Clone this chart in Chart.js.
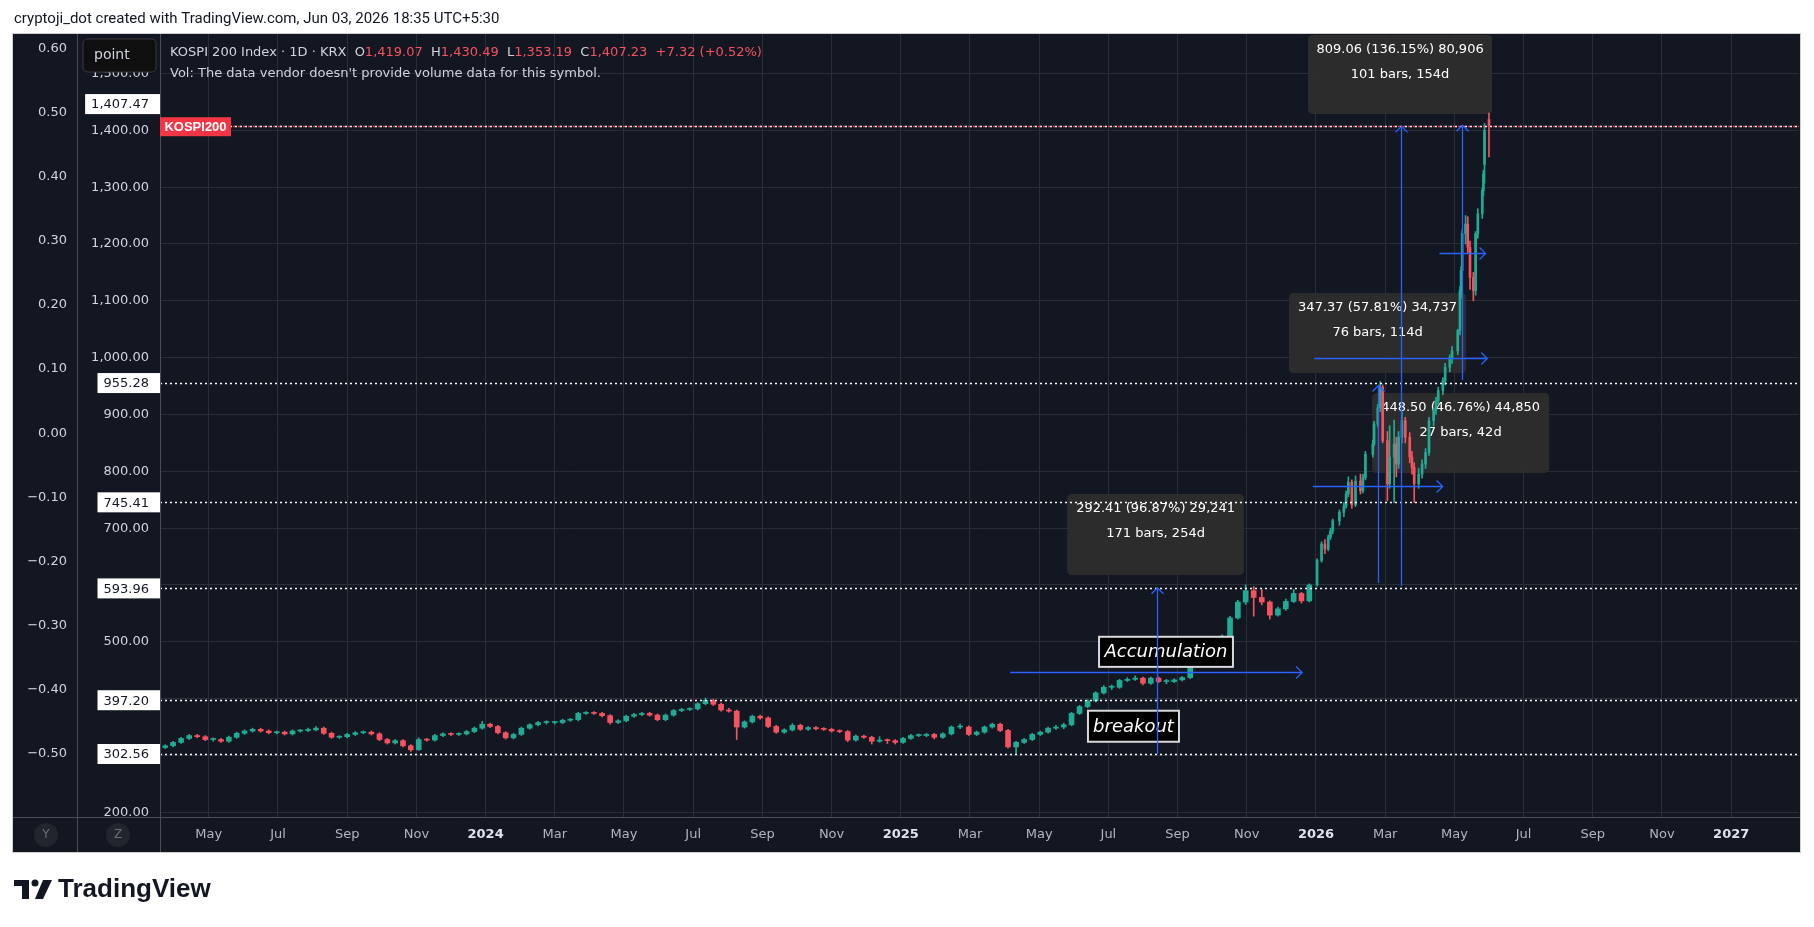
<!DOCTYPE html>
<html>
<head>
<meta charset="utf-8">
<title>KOSPI 200 Index</title>
<script src="https://cdn.jsdelivr.net/npm/chart.js@4.4.1/dist/chart.umd.min.js"></script>
<style>
  html, body { margin: 0; padding: 0; background: #ffffff; }
  #wrap { width: 1814px; height: 927px; }
</style>
</head>
<body>
<div id="wrap"><canvas id="kospi" width="1814" height="927"></canvas></div>
<script>
// weekly candles until end of 2025, then roughly every second session in 2026
var dates = [
  '2023-03-24','2023-03-31','2023-04-07','2023-04-14','2023-04-21','2023-04-28','2023-05-05','2023-05-12','2023-05-19','2023-05-26',
  '2023-06-02','2023-06-09','2023-06-16','2023-06-23','2023-06-30','2023-07-07','2023-07-14','2023-07-21','2023-07-28','2023-08-04',
  '2023-08-11','2023-08-18','2023-08-25','2023-09-01','2023-09-08','2023-09-15','2023-09-22','2023-09-29','2023-10-06','2023-10-13',
  '2023-10-20','2023-10-27','2023-11-03','2023-11-10','2023-11-17','2023-11-24','2023-12-01','2023-12-08','2023-12-15','2023-12-22',
  '2023-12-29','2024-01-05','2024-01-12','2024-01-19','2024-01-26','2024-02-02','2024-02-09','2024-02-16','2024-02-23','2024-03-01',
  '2024-03-08','2024-03-15','2024-03-22','2024-03-29','2024-04-05','2024-04-12','2024-04-19','2024-04-26','2024-05-03','2024-05-10',
  '2024-05-17','2024-05-24','2024-05-31','2024-06-07','2024-06-14','2024-06-21','2024-06-28','2024-07-05','2024-07-12','2024-07-19',
  '2024-07-26','2024-08-02','2024-08-09','2024-08-16','2024-08-23','2024-08-30','2024-09-06','2024-09-13','2024-09-20','2024-09-27',
  '2024-10-04','2024-10-11','2024-10-18','2024-10-25','2024-11-01','2024-11-08','2024-11-15','2024-11-22','2024-11-29','2024-12-06',
  '2024-12-13','2024-12-20','2024-12-27','2025-01-03','2025-01-10','2025-01-17','2025-01-24','2025-01-31','2025-02-07','2025-02-14',
  '2025-02-21','2025-02-28','2025-03-07','2025-03-14','2025-03-21','2025-03-28','2025-04-04','2025-04-11','2025-04-18','2025-04-25',
  '2025-05-02','2025-05-09','2025-05-16','2025-05-23','2025-05-30','2025-06-06','2025-06-13','2025-06-20','2025-06-27','2025-07-04',
  '2025-07-11','2025-07-18','2025-07-25','2025-08-01','2025-08-08','2025-08-15','2025-08-22','2025-08-29','2025-09-05','2025-09-12',
  '2025-09-19','2025-09-26','2025-10-03','2025-10-10','2025-10-17','2025-10-24','2025-10-31','2025-11-07','2025-11-14','2025-11-21',
  '2025-11-28','2025-12-05','2025-12-12','2025-12-19','2025-12-26',
  '2026-01-02','2026-01-06','2026-01-09','2026-01-12','2026-01-14','2026-01-16','2026-01-22','2026-01-26','2026-01-28','2026-01-30',
  '2026-02-02','2026-02-05','2026-02-09','2026-02-11','2026-02-13','2026-02-19','2026-02-20','2026-02-23','2026-02-25','2026-02-27',
  '2026-03-03','2026-03-05','2026-03-09','2026-03-11','2026-03-13','2026-03-16','2026-03-19','2026-03-23','2026-03-25','2026-03-27',
  '2026-03-31','2026-04-03','2026-04-06','2026-04-09','2026-04-13','2026-04-15','2026-04-17','2026-04-21','2026-04-23','2026-04-27',
  '2026-04-29','2026-05-04','2026-05-06','2026-05-07','2026-05-08','2026-05-11','2026-05-13','2026-05-15','2026-05-18','2026-05-20',
  '2026-05-22','2026-05-26','2026-05-27','2026-05-28','2026-06-01'
];
var opens = [
  314,317,323,330,335,333,328,328,325,332, 339,343,346,343,340,341,338,343,344,345,
  348,339,332,333,337,340,341,338,328,322, 326,317,310,328,327,335,338,337,338,342,
  348,355,351,340,331,337,348,354,358,358, 358,362,363,374,375,374,370,358,361,369,
  372,374,371,363,371,379,381,382,391,397, 390,380,378,350,359,369,366,351,341,345,
  353,346,349,347,346,343,342,327,334,332, 325,327,326,323,330,335,335,337,332,338,
  350,350,337,341,350,355,344,315,323,328, 337,341,348,350,354,374,386,396,410,420,
  420,432,434,436,427,436,430,430,433,437, 458,473,476,489,510,542,570,590,578,570,
  547,558,571,585,572,
  600,643,672,663,684,695,713,728,739,760, 781,741,783,766,789,830,848,883,912,948,
  854,778,825,848,813,860,889,860,825,807, 778,795,813,833,889,907,924,942,959,983,
  1000,1012,1047,1118,1153,1218,1235,1194,1141,1118, 1218,1253,1294,1340,1419.07
];
var highs = [
  319,325,332,337,337,335,331,330,334,341, 345,348,348,345,343,343,345,346,348,351,
  350,341,335,339,342,343,343,340,330,328, 328,319,331,330,337,340,340,340,344,350,
  360,357,353,342,339,350,356,360,361,360, 364,365,376,377,377,376,372,363,371,374,
  376,376,373,373,381,383,384,393,401,399, 392,383,380,361,371,371,368,353,347,356,
  355,351,351,349,348,345,344,336,336,334, 333,329,328,332,337,338,339,339,340,352,
  355,352,343,352,357,357,346,325,330,339, 343,350,353,357,376,388,398,412,423,424,
  434,437,440,438,438,438,434,435,439,460, 475,479,491,512,545,573,600,597,592,572,
  561,575,592,587,602,
  646,676,680,688,700,716,732,745,765,790, 785,792,795,795,835,855,888,918,958,952,
  870,880,890,860,870,905,895,868,835,815, 805,820,840,895,912,930,948,965,990,1005,
  1020,1050,1125,1160,1225,1250,1248,1205,1150,1222, 1262,1298,1330,1412,1430.49
];
var lows = [
  312,315,321,328,331,326,325,323,323,330, 337,341,341,338,338,336,336,341,342,343,
  337,330,330,331,335,338,336,326,320,320, 315,307,309,325,325,333,335,335,336,340,
  346,349,338,329,329,335,346,352,355,355, 356,360,361,372,372,368,355,356,359,367,
  370,369,361,361,369,377,379,380,389,388, 378,376,328,348,357,364,349,339,339,343,
  344,344,345,344,341,340,324,325,330,320, 323,321,320,321,328,333,333,329,330,336,
  347,335,335,339,348,342,313,302.6,321,326, 335,339,346,347,352,372,384,394,408,416,
  418,430,432,424,425,428,426,428,431,435, 456,468,474,487,508,540,566,545,565,540,
  545,555,569,568,570,
  598,640,655,660,680,690,705,720,735,755, 735,738,760,762,785,825,845,878,905,850,
  748,770,745,790,805,850,850,815,795,745, 770,788,805,828,880,900,918,935,952,975,
  990,1005,1040,1105,1145,1200,1185,1120,1100,1110, 1210,1245,1285,1307,1353.19
];
var closes = [
  317,323,330,335,333,328,328,325,332,339, 343,346,343,340,341,338,343,344,345,348,
  339,332,333,337,340,341,338,328,322,326, 317,310,328,327,335,338,337,338,342,348,
  355,351,340,331,337,348,354,358,358,358, 362,363,374,375,374,370,358,361,369,372,
  374,371,363,371,379,381,382,391,397,390, 380,378,350,359,369,366,351,341,345,353,
  346,349,347,346,343,342,327,334,332,325, 327,326,323,330,335,335,337,332,338,350,
  350,337,341,350,355,344,315,323,328,337, 341,348,350,354,374,386,396,410,420,420,
  432,434,436,427,436,430,430,433,437,458, 473,476,489,510,542,570,590,578,570,547,
  558,571,585,572,600,
  643,672,663,684,695,713,728,739,760,781, 741,783,766,789,830,848,883,912,948,854,
  778,825,848,813,860,889,860,825,807,778, 795,813,833,889,907,924,942,959,983,1000,
  1012,1047,1118,1153,1218,1235,1194,1141,1118,1218, 1253,1294,1323,1400,1407.23
];

// axis ticks
var monthNames = ['Jan','Feb','Mar','Apr','May','Jun','Jul','Aug','Sep','Oct','Nov','Dec'];
var xTicks = [4,6,8,10,12,14,16,18,20,22,24,26,28,30,32,34,36,38,40,42,44,46,48]; // months since Jan 2023
var priceTicks = [200,300,400,500,600,700,800,900,1000,1100,1200,1300,1400,1500];
var hiddenPriceTicks = [300,400,600];
var pctTicks = [-0.5,-0.4,-0.3,-0.2,-0.1,0,0.1,0.2,0.3,0.4,0.5,0.6];

// drawings on the chart (month position, price)
var levelPrices = [1407.47, 955.28, 745.41, 593.96, 397.20, 302.56];
var lastPrice = 1407.23;
var rangeTools = [
  { vm: 31.41, vp0: 302.56, vp1: 594.97, hp: 447.0, hm0: 27.16, hm1: 35.60 },
  { vm: 38.47, vp0: 598.0, vp1: 1407.0, hp: 1000.0, hm0: 35.95, hm1: 40.95 },
  { vm: 37.78, vp0: 603.5, vp1: 951.0, hp: 774.7, hm0: 35.91, hm1: 39.66 },
  { vm: 40.23, vp0: 960.7, vp1: 1409.0, hp: 1184.2, hm0: 39.57, hm1: 40.90 }
];
var rangeBoxes = [
  { m0: 28.81, m1: 33.92, p0: 760.1, p1: 617.6, lines: ['292.41 (96.87%) 29,241', '171 bars, 254d'] },
  { m0: 35.77, m1: 41.09, p0: 1567.8, p1: 1428.8, lines: ['809.06 (136.15%) 80,906', '101 bars, 154d'] },
  { m0: 35.22, m1: 40.34, p0: 1113.8, p1: 973.0, lines: ['347.37 (57.81%) 34,737', '76 bars, 114d'] },
  { m0: 37.62, m1: 42.74, p0: 937.9, p1: 797.1, lines: ['448.50 (46.76%) 44,850', '27 bars, 42d'] }
];
var noteLabels = [
  { text: 'Accumulation', m0: 29.73, m1: 33.60, p0: 508.8, p1: 455.9 },
  { text: 'breakout', m0: 29.41, m1: 32.04, p0: 378.7, p1: 324.1 }
];

var UP = '#22ab94', DOWN = '#f7525f';
var GRID = '#2a2e39';
var TXT = '#d1d4dc';
var FONT = '"DejaVu Sans", sans-serif';

function monthPos(s) {
  var p = s.split('-').map(Number);
  var dim = new Date(p[0], p[1], 0).getDate();
  return (p[0] - 2023) * 12 + (p[1] - 1) + (p[2] - 1) / dim;
}

function candles(from2026, a, b) {
  var out = [];
  for (var i = 0; i < dates.length; i++) {
    if ((dates[i] >= '2026') === from2026) out.push({ x: monthPos(dates[i]), y: [a[i], b[i]], i: i });
  }
  return out;
}
function candleColor(ctx) {
  var i = ctx.raw ? ctx.raw.i : 0;
  return closes[i] >= opens[i] ? UP : DOWN;
}
function candleSet(from2026, body) {
  return {
    data: body ? candles(from2026, opens, closes) : candles(from2026, lows, highs),
    backgroundColor: candleColor,
    borderWidth: 0,
    stack: 'c',
    barThickness: body ? (from2026 ? 2 : 5) : 1,
    minBarLength: 1
  };
}

function fmtPrice(v) {
  return v.toLocaleString('en-US', { minimumFractionDigits: 2, maximumFractionDigits: 2 });
}

function arrowUp(g, x, y) {
  g.beginPath(); g.moveTo(x - 6, y + 6); g.lineTo(x, y); g.lineTo(x + 6, y + 6); g.stroke();
}
function arrowRight(g, x, y) {
  g.beginPath(); g.moveTo(x - 6, y - 6); g.lineTo(x, y); g.lineTo(x - 6, y + 6); g.stroke();
}
function roundRect(g, x, y, w, h, r) {
  g.beginPath();
  g.moveTo(x + r, y); g.lineTo(x + w - r, y); g.quadraticCurveTo(x + w, y, x + w, y + r);
  g.lineTo(x + w, y + h - r); g.quadraticCurveTo(x + w, y + h, x + w - r, y + h);
  g.lineTo(x + r, y + h); g.quadraticCurveTo(x, y + h, x, y + h - r);
  g.lineTo(x, y + r); g.quadraticCurveTo(x, y, x + r, y);
  g.closePath();
}

var frame = {
  id: 'frame',
  beforeDraw: function (c) {
    var g = c.ctx;
    g.save();
    g.fillStyle = '#ffffff';
    g.fillRect(0, 0, c.width, c.height);
    g.fillStyle = '#131722';
    g.fillRect(13, 34, 1787, 818);
    g.restore();
  },
  beforeDatasetsDraw: function (c) {
    var g = c.ctx, xs = c.scales.x, ys = c.scales.y;
    g.save();
    rangeBoxes.forEach(function (b) {
      var x0 = xs.getPixelForValue(b.m0), x1 = xs.getPixelForValue(b.m1);
      var y0 = ys.getPixelForValue(b.p0), y1 = ys.getPixelForValue(b.p1);
      g.fillStyle = 'rgba(46,46,46,0.96)';
      roundRect(g, x0, y0, x1 - x0, y1 - y0, 5);
      g.fill();
      g.fillStyle = '#ffffff';
      g.font = '13px ' + FONT;
      g.textAlign = 'center';
      g.textBaseline = 'middle';
      g.fillText(b.lines[0], (x0 + x1) / 2, y0 + 15);
      g.fillText(b.lines[1], (x0 + x1) / 2, y0 + 40);
    });
    g.restore();
  },
  afterDatasetsDraw: function (c) {
    var g = c.ctx, xs = c.scales.x, ys = c.scales.y, a = c.chartArea;
    g.save();
    g.beginPath(); g.rect(a.left, a.top, a.right - a.left, a.bottom - a.top); g.clip();
    // horizontal levels
    g.lineWidth = 1.5;
    g.setLineDash([2, 3]);
    g.strokeStyle = '#ffffff';
    levelPrices.forEach(function (p) {
      var y = Math.round(ys.getPixelForValue(p)) + 0.5;
      g.beginPath(); g.moveTo(a.left, y); g.lineTo(a.right, y); g.stroke();
    });
    g.strokeStyle = '#f23645';
    g.lineDashOffset = 2;
    var yl = Math.round(ys.getPixelForValue(lastPrice)) + 0.5;
    g.beginPath(); g.moveTo(a.left, yl); g.lineTo(a.right, yl); g.stroke();
    g.setLineDash([]);
    // text notes
    noteLabels.forEach(function (n) {
      var x0 = xs.getPixelForValue(n.m0), x1 = xs.getPixelForValue(n.m1);
      var y0 = ys.getPixelForValue(n.p0), y1 = ys.getPixelForValue(n.p1);
      g.fillStyle = '#000000';
      g.fillRect(x0, y0, x1 - x0, y1 - y0);
      g.strokeStyle = '#d9d9d9';
      g.lineWidth = 2;
      g.strokeRect(x0, y0, x1 - x0, y1 - y0);
      g.fillStyle = '#ffffff';
      g.font = 'italic 18px ' + FONT;
      g.textAlign = 'center';
      g.textBaseline = 'middle';
      g.fillText(n.text, (x0 + x1) / 2, (y0 + y1) / 2 + 1);
    });
    // date and price ranges
    g.strokeStyle = '#2962ff';
    g.lineWidth = 1.3;
    rangeTools.forEach(function (t) {
      var x = Math.round(xs.getPixelForValue(t.vm)) + 0.5;
      var yb = ys.getPixelForValue(t.vp0), yt = ys.getPixelForValue(t.vp1);
      g.beginPath(); g.moveTo(x, yb); g.lineTo(x, yt); g.stroke();
      arrowUp(g, x, yt);
      var y = Math.round(ys.getPixelForValue(t.hp)) + 0.5;
      var xl = xs.getPixelForValue(t.hm0), xr = xs.getPixelForValue(t.hm1);
      g.beginPath(); g.moveTo(xl, y); g.lineTo(xr, y); g.stroke();
      arrowRight(g, xr, y);
    });
    g.restore();
  },
  afterDraw: function (c) {
    var g = c.ctx, ys = c.scales.y, a = c.chartArea;
    g.save();
    // pane separators and outline
    g.strokeStyle = '#4a4e59';
    g.lineWidth = 1;
    g.beginPath();
    g.moveTo(77.5, 34); g.lineTo(77.5, 852);
    g.moveTo(a.left + 0.5, 34); g.lineTo(a.left + 0.5, 852);
    g.moveTo(13, a.bottom + 0.5); g.lineTo(1800, a.bottom + 0.5);
    g.stroke();
    g.strokeStyle = '#cfcfcf';
    g.strokeRect(12.5, 33.5, 1788, 819);

    // price labels of the levels
    g.font = '13px ' + FONT;
    g.textBaseline = 'middle';
    g.textAlign = 'right';
    levelPrices.forEach(function (p, k) {
      var y = ys.getPixelForValue(p);
      if (k === 0) y -= 22;
      var t = fmtPrice(p), w = g.measureText(t).width;
      g.fillStyle = '#ffffff';
      g.fillRect(a.left - 11 - w - 6, y - 10, w + 17, 20);
      g.fillStyle = '#131722';
      g.fillText(t, a.left - 11, y + 1);
    });

    // symbol tag on the last price line
    var yl = ys.getPixelForValue(lastPrice);
    g.fillStyle = '#f23645';
    g.fillRect(a.left, yl - 9, 71, 19);
    g.fillStyle = '#ffffff';
    g.font = 'bold 13px "Liberation Sans", sans-serif';
    g.textAlign = 'center';
    g.fillText('KOSPI200', a.left + 35.5, yl + 1);

    // interval button
    g.fillStyle = '#0f0f10';
    roundRect(g, 83, 39, 73, 33, 5);
    g.fill();
    g.strokeStyle = '#3a3a3a';
    g.stroke();
    g.fillStyle = TXT;
    g.font = '14px ' + FONT;
    g.textAlign = 'left';
    g.fillText('point', 94, 55);

    // legend
    var x = 170, y = 53;
    g.font = '13px ' + FONT;
    var parts = [
      ['KOSPI 200 Index · 1D · KRX  ', TXT], ['O', TXT], ['1,419.07  ', DOWN], ['H', TXT], ['1,430.49  ', DOWN],
      ['L', TXT], ['1,353.19  ', DOWN], ['C', TXT], ['1,407.23  +7.32 (+0.52%)', DOWN]
    ];
    parts.forEach(function (p) {
      g.fillStyle = p[1];
      g.fillText(p[0], x, y);
      x += g.measureText(p[0]).width;
    });
    g.fillStyle = TXT;
    g.fillText("Vol: The data vendor doesn't provide volume data for this symbol.", 170, 74);

    // scale buttons
    [[46, 'Y'], [118, 'Z']].forEach(function (b) {
      g.fillStyle = '#22252e';
      g.beginPath(); g.arc(b[0], 835, 12, 0, Math.PI * 2); g.fill();
      g.fillStyle = '#6a6d78';
      g.font = '12px ' + FONT;
      g.textAlign = 'center';
      g.fillText(b[1], b[0], 835);
    });

    // header and footer
    g.fillStyle = '#131722';
    g.font = '15px Roboto, sans-serif';
    g.textAlign = 'left';
    g.fillText('cryptoji_dot created with TradingView.com, Jun 03, 2026 18:35 UTC+5:30', 14, 19);

    g.fillStyle = '#131722';
    g.fillRect(14, 880, 15, 6);
    g.fillRect(22, 880, 7, 19);
    g.beginPath(); g.arc(35, 883, 3.5, 0, Math.PI * 2); g.fill();
    g.beginPath(); g.moveTo(43, 880); g.lineTo(52, 880); g.lineTo(43, 899); g.lineTo(35, 899); g.closePath(); g.fill();
    g.font = 'bold 26px "Liberation Sans", sans-serif';
    g.fillText('TradingView', 58, 890);
    g.restore();
  }
};

var config = {
  type: 'bar',
  data: {
    datasets: [candleSet(false, true), candleSet(true, true), candleSet(false, false), candleSet(true, false)]
  },
  options: {
    responsive: false,
    devicePixelRatio: 1,
    animation: false,
    events: [],
    layout: { padding: { left: 13, top: 34, right: 15, bottom: 75 } },
    plugins: { legend: { display: false }, tooltip: { enabled: false } },
    scales: {
      x: {
        type: 'linear',
        min: 2.59,
        max: 49.96,
        offset: false,
        afterBuildTicks: function (s) { s.ticks = xTicks.map(function (v) { return { value: v }; }); },
        afterFit: function (s) { s.height = 35; s.paddingLeft = 0; s.paddingRight = 0; },
        grid: { color: GRID, drawTicks: false, offset: false },
        border: { display: false },
        ticks: {
          autoSkip: false,
          maxRotation: 0,
          padding: 10,
          color: function (ctx) { return ctx.tick && ctx.tick.value % 12 === 0 ? '#e0e3eb' : '#b2b5be'; },
          font: function (ctx) {
            return { family: FONT, size: 13, weight: ctx.tick && ctx.tick.value % 12 === 0 ? 'bold' : 'normal' };
          },
          callback: function (v) { return v % 12 === 0 ? String(2023 + v / 12) : monthNames[v % 12]; }
        }
      },
      y: {
        position: 'left',
        weight: 0,
        min: 191.7,
        max: 1569.5,
        stacked: false,
        afterBuildTicks: function (s) { s.ticks = priceTicks.map(function (v) { return { value: v }; }); },
        afterFit: function (s) { s.width = 83; s.paddingTop = 0; s.paddingBottom = 0; },
        grid: { color: GRID, drawTicks: false },
        border: { display: false },
        ticks: {
          padding: 11,
          color: TXT,
          font: { family: FONT, size: 13 },
          callback: function (v) { return hiddenPriceTicks.indexOf(v) >= 0 ? '' : fmtPrice(v); }
        }
      },
      pct: {
        position: 'left',
        weight: 1,
        min: -0.5995,
        max: 0.6234,
        afterBuildTicks: function (s) { s.ticks = pctTicks.map(function (v) { return { value: v }; }); },
        afterFit: function (s) { s.width = 64; s.paddingTop = 0; s.paddingBottom = 0; },
        grid: { display: false, drawTicks: false },
        border: { display: false },
        ticks: {
          padding: 10,
          color: TXT,
          font: { family: FONT, size: 13 },
          callback: function (v) { return v.toFixed(2).replace('-', '\u2212'); }
        }
      }
    }
  },
  plugins: [frame]
};

var kospiChart = new Chart(document.getElementById('kospi'), config);
</script>
</body>
</html>
